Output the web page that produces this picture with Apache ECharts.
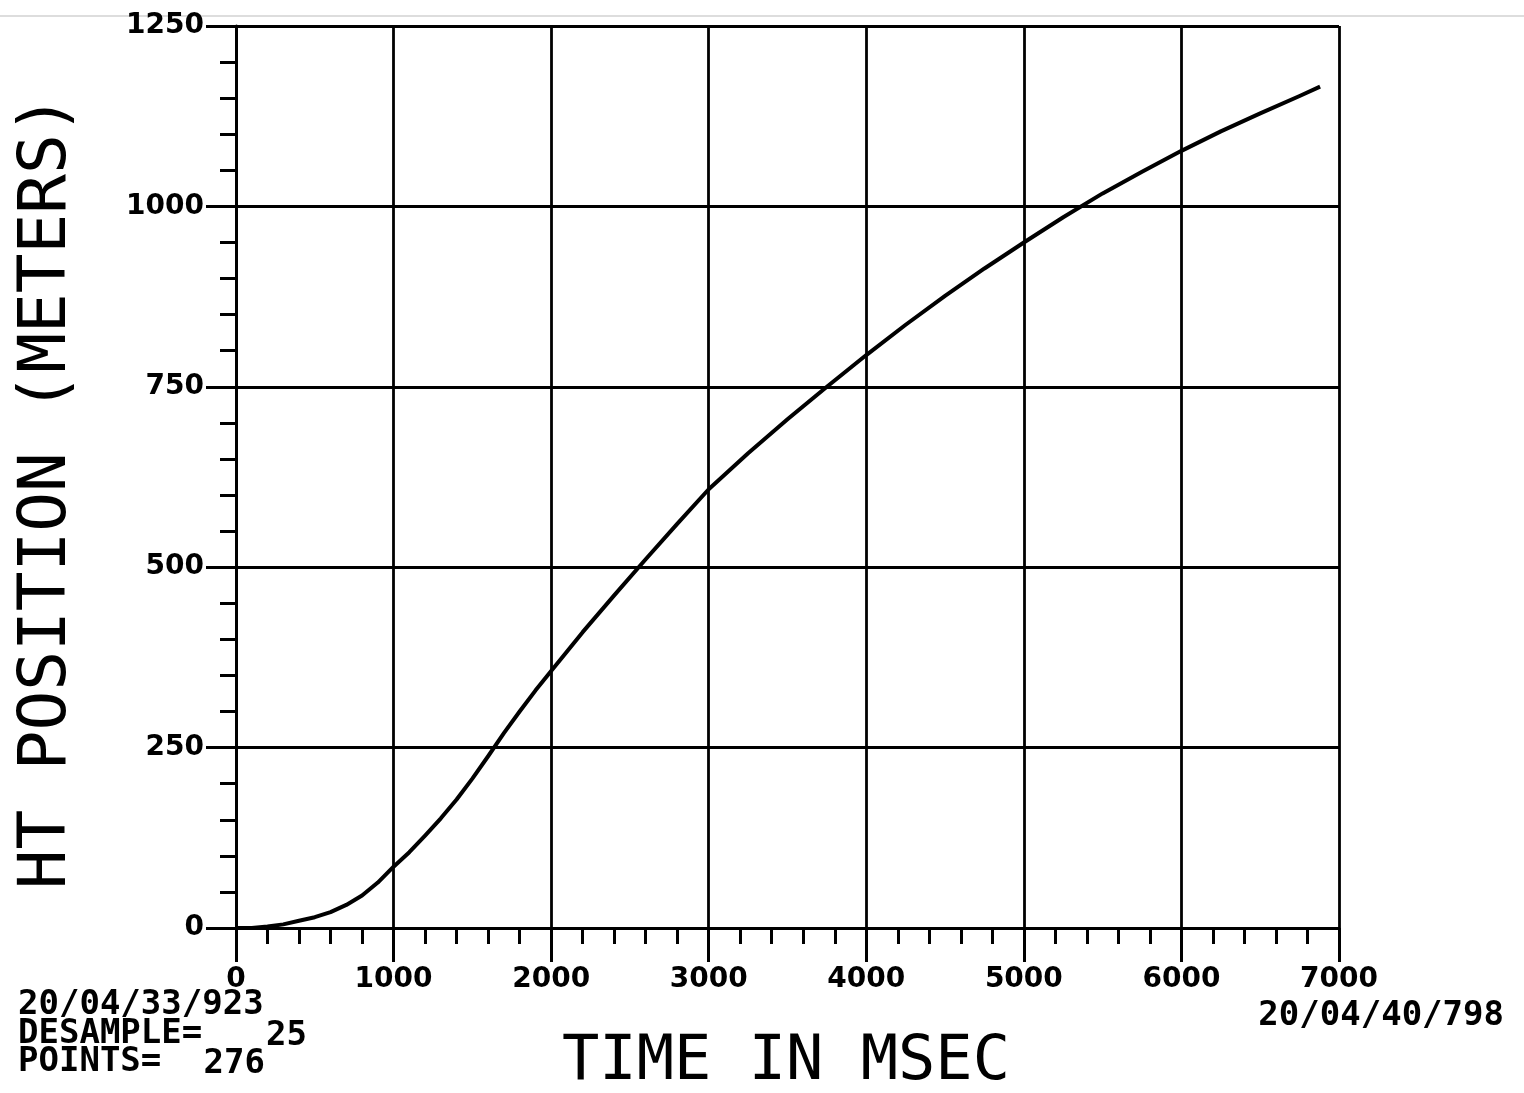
<!DOCTYPE html>
<html>
<head>
<meta charset="utf-8">
<script src="https://cdn.jsdelivr.net/npm/echarts@6/dist/echarts.min.js"></script>
<style>
html,body{margin:0;padding:0;background:#fff;}
#chart{width:1524px;height:1093px;}
</style>
</head>
<body>
<div id="chart"></div>
<script>
// Time (msec) and HT position (meters)
const timeMs = [0,100,200,300,400,500,600,700,800,900,1000,1100,1200,1300,1400,1500,1600,1700,1800,1900,2000,2200,2400,2600,2800,3000,3250,3500,3750,4000,4250,4500,4750,5000,5250,5500,5750,6000,6250,6500,6750,6880];
const positionM = [0,0,2,5,10,15,22,32,45,63,85,105,128,152,178,207,238,270,300,329,356,410,461,511,560,608,658,705,750,794,836,876,914,950,985,1018,1048,1077,1104,1129,1153,1166];
const xTicks = [0,1000,2000,3000,4000,5000,6000,7000];
const yTicks = [0,250,500,750,1000,1250];
const yTitle = 'HT POSITION (METERS)';
const xTitle = 'TIME IN MSEC';
const startStamp = '20/04/33/923';
const endStamp = '20/04/40/798';
const desampleLabel = 'DESAMPLE=';
const desampleValue = '25';
const pointsLabel = 'POINTS=';
const pointsValue = '276';

const chart = echarts.init(document.getElementById('chart'));
const black = '#000';
const labelFont = {color: black, fontFamily: 'DejaVu Sans', fontWeight: 'bold', fontSize: 28, formatter: v => String(v)};
const stampFont = {fill: black, fontFamily: 'DejaVu Sans Mono', fontWeight: 'bold', fontSize: 34};

chart.setOption({
  backgroundColor: '#fff',
  animation: false,
  grid: {left: 236, right: 185, top: 26, bottom: 165, containLabel: false},
  xAxis: {
    type: 'value', min: xTicks[0], max: xTicks[xTicks.length - 1], interval: 1000,
    axisLine: {lineStyle: {color: black, width: 3}},
    axisTick: {show: true, length: 34, lineStyle: {color: black, width: 3}},
    minorTick: {show: true, splitNumber: 5, length: 16, lineStyle: {color: black, width: 3}},
    splitLine: {show: true, lineStyle: {color: black, width: 2.8}},
    axisLabel: {...labelFont, margin: 38}
  },
  yAxis: {
    type: 'value', min: yTicks[0], max: yTicks[yTicks.length - 1], interval: 250,
    axisLine: {show: true, lineStyle: {color: black, width: 3}},
    axisTick: {show: true, length: 30, lineStyle: {color: black, width: 3}},
    minorTick: {show: true, splitNumber: 5, length: 16, lineStyle: {color: black, width: 3}},
    splitLine: {show: true, lineStyle: {color: black, width: 2.8}},
    axisLabel: {...labelFont, margin: 32}
  },
  series: [{
    type: 'line',
    data: timeMs.map((t, i) => [t, positionM[i]]),
    showSymbol: false,
    smooth: false,
    lineStyle: {color: black, width: 4, join: 'round'},
    z: 5
  }],
  graphic: [
    {type: 'line', shape: {x1: 0, y1: 16, x2: 1524, y2: 16}, style: {stroke: '#bbb', lineWidth: 1}},
    {type: 'text', x: 48, y: 492, rotation: Math.PI / 2, style: {text: yTitle, fill: black, fontFamily: 'DejaVu Sans Mono', fontSize: 66, align: 'center', verticalAlign: 'middle'}},
    {type: 'text', x: 786, y: 1063, style: {text: xTitle, fill: black, fontFamily: 'DejaVu Sans Mono', fontSize: 62, align: 'center', verticalAlign: 'middle'}},
    {type: 'text', x: 18, y: 1005, style: {text: startStamp, ...stampFont, align: 'left', verticalAlign: 'middle'}},
    {type: 'text', x: 18, y: 1034, style: {text: desampleLabel, ...stampFont, align: 'left', verticalAlign: 'middle'}},
    {type: 'text', x: 307, y: 1036, style: {text: desampleValue, ...stampFont, align: 'right', verticalAlign: 'middle'}},
    {type: 'text', x: 18, y: 1062, style: {text: pointsLabel, ...stampFont, align: 'left', verticalAlign: 'middle'}},
    {type: 'text', x: 265, y: 1064, style: {text: pointsValue, ...stampFont, align: 'right', verticalAlign: 'middle'}},
    {type: 'text', x: 1504, y: 1016, style: {text: endStamp, ...stampFont, align: 'right', verticalAlign: 'middle'}}
  ]
});
</script>
</body>
</html>
